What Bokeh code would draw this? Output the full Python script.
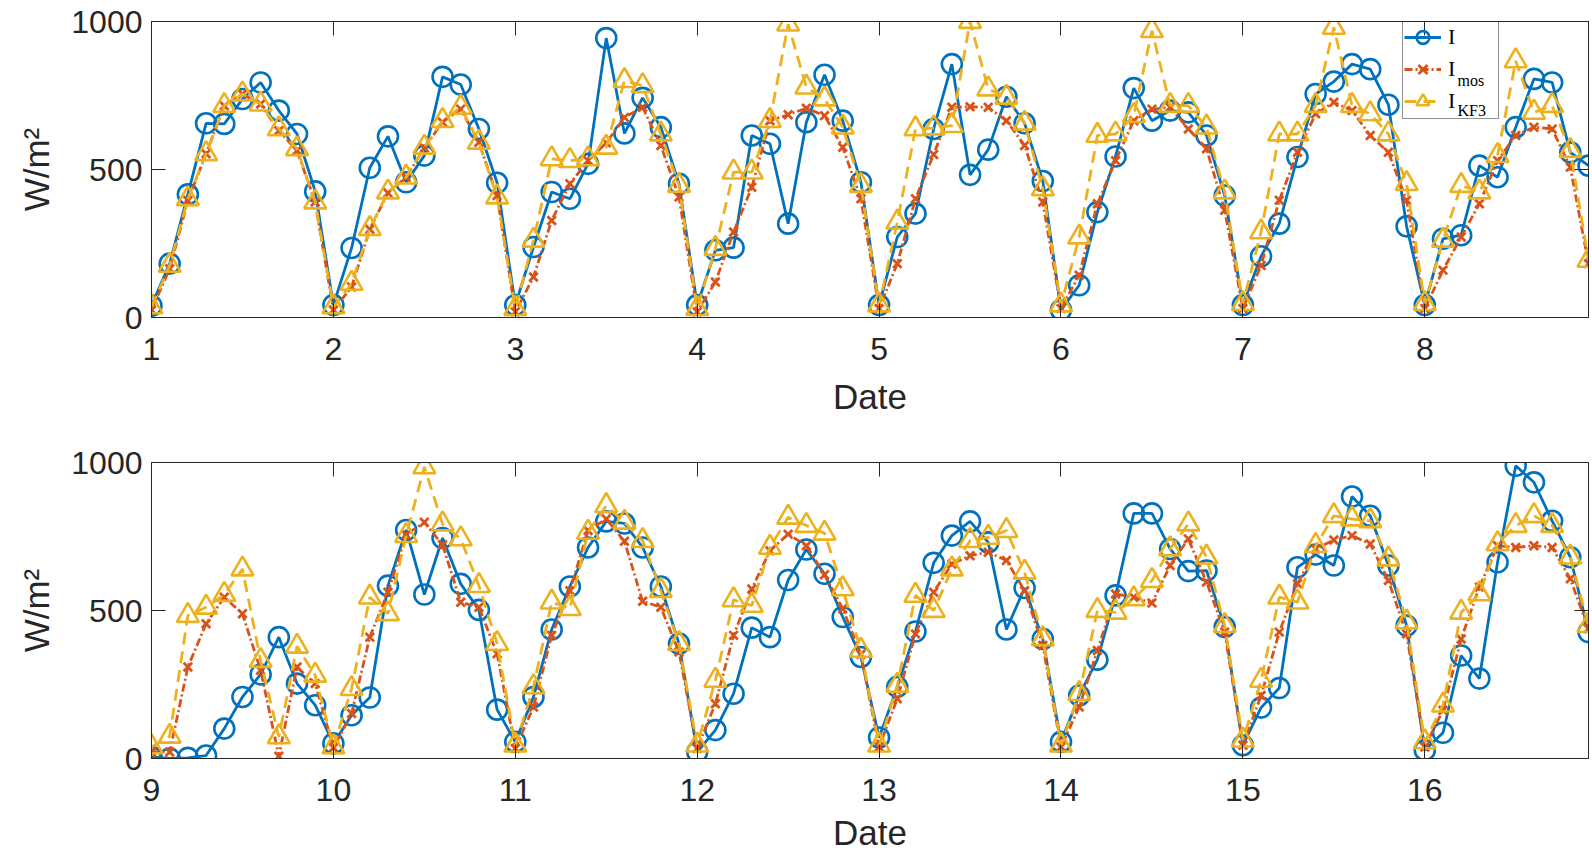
from bokeh.plotting import figure
from bokeh.layouts import column
from bokeh.models import (Range1d, FixedTicker, LinearAxis, Legend, LegendItem,
                          CustomJSTickFormatter)
from bokeh.core.properties import value
from bokeh.embed import file_html
from bokeh.resources import INLINE

# ---------------- data ----------------
steps = [0.0, 0.1, 0.2, 0.3, 0.4, 0.5, 0.6, 0.7, 0.8, 0.9]
days_top = [1, 2, 3, 4, 5, 6, 7, 8]
days_bottom = [9, 10, 11, 12, 13, 14, 15, 16]
t_top = [round(d + s, 1) for d in days_top for s in steps]
t_bottom = [round(d + s, 1) for d in days_bottom for s in steps]

I_top = [40, 182, 416, 656, 654, 738, 794, 699, 620, 426,
         42, 235, 506, 612, 457, 547, 813, 787, 637, 455,
         42, 238, 424, 401, 519, 944, 622, 742, 643, 452,
         42, 227, 236, 615, 587, 317, 660, 820, 665, 457,
         42, 272, 351, 637, 856, 482, 567, 746, 656, 461,
         25, 109, 356, 544, 775, 665, 699, 693, 615, 412,
         42, 207, 317, 542, 755, 797, 856, 839, 719, 308,
         42, 266, 278, 513, 474, 643, 806, 794, 558, 513]
Imos_top = [25, 165, 395, 553, 715, 755, 721, 631, 564, 390,
            25, 103, 298, 421, 474, 573, 660, 704, 592, 412,
            19, 137, 328, 452, 530, 590, 676, 710, 581, 407,
            19, 120, 289, 440, 665, 685, 707, 682, 575, 401,
            30, 182, 401, 551, 710, 712, 710, 665, 581, 390,
            30, 143, 384, 530, 665, 704, 710, 637, 570, 362,
            30, 176, 396, 558, 688, 727, 699, 615, 558, 396,
            30, 160, 272, 384, 530, 615, 643, 637, 508, 182]
Ikf3_top = [36, 176, 401, 553, 716, 755, 721, 637, 570, 390,
            36, 115, 300, 424, 474, 575, 665, 710, 592, 407,
            30, 261, 536, 530, 536, 575, 800, 783, 620, 446,
            30, 233, 491, 491, 665, 991, 778, 738, 643, 446,
            42, 322, 637, 640, 648, 1000, 772, 744, 656, 435,
            42, 272, 615, 620, 682, 969, 716, 716, 643, 424,
            47, 289, 620, 620, 716, 980, 716, 688, 620, 452,
            47, 261, 446, 424, 547, 867, 693, 716, 564, 193]

I_bottom = [5, 0, 2, 10, 101, 208, 284, 410, 253, 180,
            51, 146, 206, 584, 772, 554, 745, 590, 502, 165,
            56, 208, 436, 581, 713, 801, 794, 713, 581, 388,
            22, 96, 219, 442, 410, 603, 706, 624, 478, 343,
            71, 242, 429, 661, 753, 801, 730, 436, 576, 404,
            56, 213, 334, 551, 828, 828, 708, 633, 635, 444,
            45, 172, 238, 646, 689, 652, 885, 820, 652, 449,
            28, 87, 348, 270, 663, 989, 933, 803, 680, 427]
Imos_bottom = [22, 22, 309, 455, 545, 489, 298, 8, 309, 253,
               36, 152, 410, 562, 756, 798, 722, 528, 511, 354,
               34, 174, 416, 567, 770, 809, 734, 531, 511, 360,
               34, 185, 416, 573, 702, 758, 719, 621, 506, 352,
               39, 202, 421, 562, 657, 685, 697, 669, 567, 382,
               39, 174, 365, 556, 545, 525, 652, 742, 596, 427,
               45, 213, 427, 590, 708, 738, 753, 725, 601, 421,
               39, 163, 404, 579, 719, 713, 719, 713, 607, 438]
Ikf3_bottom = [39, 75, 483, 511, 554, 640, 331, 73, 379, 281,
               39, 236, 545, 489, 753, 985, 792, 742, 584, 388,
               45, 242, 528, 506, 764, 854, 798, 736, 567, 388,
               45, 264, 536, 517, 713, 815, 787, 761, 573, 365,
               45, 247, 551, 500, 640, 736, 747, 770, 629, 404,
               45, 219, 500, 494, 539, 601, 708, 792, 680, 449,
               62, 264, 545, 528, 719, 820, 809, 803, 674, 461,
               56, 180, 494, 556, 725, 787, 820, 787, 680, 449]

y_ticks = [0, 500, 1000]
x_label = "Date"
y_label = "W/m²"
legend_main = ["I", "I", "I"]
legend_sub = ["mos", "KF3"]

BLUE = "#0072BD"
ORANGE = "#D95319"
YELLOW = "#EDB120"
AX = "#262626"
TICK_FONT = "Liberation Sans"


def style_axis(ax, size="32px"):
    ax.major_tick_in = 14
    ax.major_tick_out = 0
    ax.minor_tick_in = 0
    ax.minor_tick_out = 0
    ax.axis_line_color = AX
    ax.major_tick_line_color = AX
    ax.major_label_text_font = TICK_FONT
    ax.major_label_text_font_size = size
    ax.major_label_text_color = AX
    ax.axis_label_text_font = TICK_FONT
    ax.axis_label_text_font_size = "35px"
    ax.axis_label_text_font_style = "normal"
    ax.axis_label_text_color = AX


def make_panel(t, I, mos, kf, days, height, b_top, b_bottom, with_legend, label_standoff):
    x0, x1 = days[0], days[-1] + 0.9
    p = figure(width=1592, height=height, output_backend="svg", toolbar_location=None,
               x_range=Range1d(x0, x1), y_range=Range1d(0, 1000),
               min_border_left=151, min_border_right=4,
               min_border_top=b_top, min_border_bottom=b_bottom)
    p.xgrid.visible = False
    p.ygrid.visible = False
    p.outline_line_color = AX
    p.outline_line_width = 1
    p.background_fill_color = "white"
    p.border_fill_color = "white"

    p.xaxis.ticker = FixedTicker(ticks=days)
    p.yaxis.ticker = FixedTicker(ticks=y_ticks)
    p.xaxis.axis_label = x_label
    p.yaxis.axis_label = y_label
    style_axis(p.xaxis[0])
    style_axis(p.yaxis[0])
    p.xaxis.major_label_standoff = 20
    p.xaxis.axis_label_standoff = label_standoff
    p.yaxis.major_label_standoff = 9
    p.yaxis.axis_label_standoff = 12

    empty = CustomJSTickFormatter(code="return ''")
    top = LinearAxis(ticker=FixedTicker(ticks=days), formatter=empty)
    right = LinearAxis(ticker=FixedTicker(ticks=y_ticks), formatter=empty)
    for ax in (top, right):
        style_axis(ax, size="0px")
        ax.major_label_standoff = 0
    p.add_layout(top, "above")
    p.add_layout(right, "right")

    l1 = p.line(t, I, line_color=BLUE, line_width=2.8)
    m1 = p.scatter(t, I, marker="circle", size=20, line_color=BLUE, line_width=2.6,
                   fill_color=None)
    l2 = p.line(t, mos, line_color=ORANGE, line_width=2.8, line_dash="8 3 2 3")
    m2 = p.scatter(t, mos, marker="x", size=12, line_color=ORANGE, line_width=2.8)
    l3 = p.line(t, kf, line_color=YELLOW, line_width=2.8, line_dash="12 7")
    m3 = p.scatter(t, kf, marker="triangle", size=22, line_color=YELLOW, line_width=2.6,
                   fill_color=None)

    if with_legend:
        items = [LegendItem(label=legend_main[0], renderers=[l1, m1]),
                 LegendItem(label=legend_main[1], renderers=[l2, m2]),
                 LegendItem(label=legend_main[2], renderers=[l3, m3])]
        leg = Legend(items=items, location=(1251, 198))
        leg.label_text_font = "Liberation Serif"
        leg.label_text_font_size = "22px"
        leg.label_text_color = "black"
        leg.glyph_width = 37
        leg.glyph_height = 32
        leg.label_height = 32
        leg.label_width = 49
        leg.label_standoff = 7
        leg.spacing = 0
        leg.padding = 1
        leg.margin = 0
        leg.border_line_color = AX
        leg.border_line_width = 1
        leg.background_fill_alpha = 0
        p.add_layout(leg)
        # subscripts of the legend labels, placed right after each "I"
        px_per_day = 1437 / (x1 - x0)
        sub_x = x0 + 1306 / px_per_day
        sub_y = [(317 - 80) / 296 * 1000, (317 - 110) / 296 * 1000]
        p.text(x=[sub_x, sub_x], y=sub_y, text=legend_sub,
               text_font=value("Liberation Serif"), text_font_size="16px",
               text_color="black", text_baseline="alphabetic", text_align="left")
    return p


p1 = make_panel(t_top, I_top, Imos_top, Ikf3_top, days_top, 440, 21, 123, True, 14)
p2 = make_panel(t_bottom, I_bottom, Imos_bottom, Ikf3_bottom, days_bottom, 414, 22, 96, False, 9)

layout = column(p1, p2, spacing=0)
open("out.html", "w").write(file_html(layout, INLINE))
